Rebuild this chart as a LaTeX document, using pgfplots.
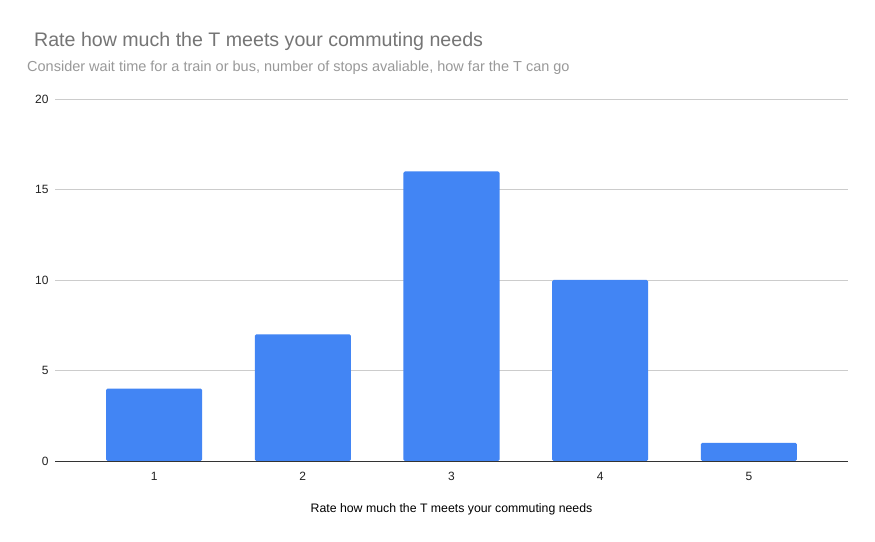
\documentclass[border=0pt]{standalone}
\usepackage{pgfplots}
\pgfplotsset{compat=1.18}
\usepackage{fontspec}
\setmainfont{Liberation Sans}
\definecolor{barblue}{HTML}{4285F4}
\definecolor{titlegray}{HTML}{757575}
\definecolor{subgray}{HTML}{999999}
\definecolor{gridgray}{HTML}{CCCCCC}
\definecolor{ticktext}{HTML}{222222}
\begin{document}
\begin{tikzpicture}[x=1pt,y=1pt]
\useasboundingbox[fill=white] (0,0) rectangle (875,541);
\node[anchor=west,text=titlegray,font=\fontsize{19.6}{23}\selectfont,inner sep=0] at (34,500) {Rate how much the T meets your commuting needs};
\node[anchor=west,text=subgray,font=\fontsize{14.5}{17}\selectfont,inner sep=0] at (27,473) {Consider wait time for a train or bus, number of stops avaliable, how far the T can go};
\begin{axis}[
  at={(55pt,80pt)}, anchor=south west,
  scale only axis, width=793pt, height=362pt,
  ymin=0, ymax=20, ytick={0,5,10,15,20},
  xmin=0.333, xmax=5.667, xtick={1,2,3,4,5},
  axis line style={draw=none},
  ymajorgrids, grid style={gridgray, line width=0.8pt},
  major tick length=0pt,
  tick label style={font=\fontsize{12}{14}\selectfont, text=ticktext},
  /pgf/number format/assume math mode=true,
  yticklabel style={xshift=-3pt},
  xticklabel style={yshift=-8pt},
  xlabel={Rate how much the T meets your commuting needs},
  xlabel style={font=\fontsize{12.3}{14}\selectfont, text=black, yshift=-16pt},
  ybar, bar width=0.6465,
  clip=false,
]
\addplot[fill=barblue, draw=none, rounded corners=1.5pt] coordinates {(1,4) (2,7) (3,16) (4,10) (5,1)};
\draw[color=black!80, line width=1pt] (rel axis cs:0,0) -- (rel axis cs:1,0);
\end{axis}
\end{tikzpicture}
\end{document}
